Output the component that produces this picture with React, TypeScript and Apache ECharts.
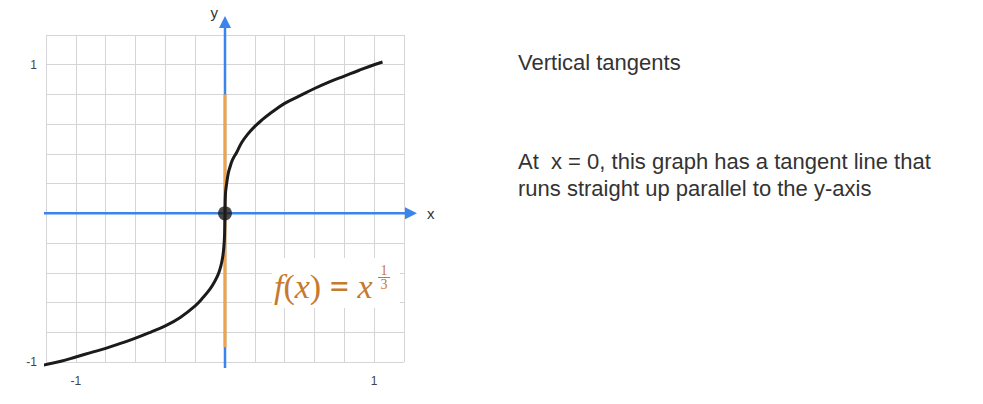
import React, { useEffect, useRef } from "react";
import * as echarts from "echarts";

// Curve f(x) = x^(1/3)
const curveX = [-1.263, -1.1, -1.0, -0.9, -0.8, -0.7, -0.6, -0.5, -0.4, -0.3, -0.2, -0.15, -0.101, -0.07, -0.045, -0.028, -0.016, -0.008, -0.003, 0, 0.003, 0.011, 0.022, 0.033, 0.05, 0.078, 0.111, 0.15, 0.2, 0.25, 0.3, 0.4, 0.5, 0.6, 0.7, 0.8, 0.9, 1.0, 1.056];
const curveY = [-1.031, -0.995, -0.966, -0.937, -0.908, -0.875, -0.84, -0.8, -0.757, -0.7, -0.622, -0.57, -0.51, -0.46, -0.409, -0.355, -0.297, -0.23, -0.15, 0, 0.13, 0.2, 0.27, 0.31, 0.36, 0.41, 0.475, 0.53, 0.585, 0.63, 0.67, 0.74, 0.79, 0.84, 0.885, 0.924, 0.963, 1.0, 1.018];

// Vertical tangent at x = 0
const tangentX = [0, 0];
const tangentY = [-0.9, 0.8];

// Drawn axes (with arrows)
const xAxisLineX = [-1.24, 1.247];
const yAxisLineY = [-1.04, 1.288];

const pointOfTangency = [0, 0];

const xRange = [-1.2, 1.2];
const yRange = [-1.0, 1.2];
const step = 0.2;
const labeledTicks = [-1, 1];

const title = "Vertical tangents";
const bodyLines = ["At  x = 0, this graph has a tangent line that", "runs straight up parallel to the y-axis"];

const BLUE = "#3b84ec";
const ORANGE = "#f2a347";
const FORMULA = "#c67a2d";

export default function App() {
  const ref = useRef<HTMLDivElement>(null);
  useEffect(() => {
    if (!ref.current) return;
    const chart = echarts.init(ref.current, null, { renderer: "svg" });
    const fmt = (v: number) =>
      labeledTicks.some((t) => Math.abs(v - t) < 1e-6) ? String(Math.round(v)) : "";
    const sans = "'Liberation Sans', Arial, Helvetica, sans-serif";
    const serif = "'Liberation Serif', 'DejaVu Serif', serif";
    chart.setOption({
      animation: false,
      grid: { left: 46, top: 35, width: 358, height: 327, containLabel: false },
      xAxis: {
        type: "value",
        min: xRange[0],
        max: xRange[1],
        interval: step,
        axisLine: { show: false },
        axisTick: { show: false },
        splitLine: { show: true, lineStyle: { color: "#d5d5d5", width: 1 } },
        axisLabel: { formatter: fmt, color: "#444", fontSize: 12, fontFamily: sans, margin: 13, showMinLabel: true, showMaxLabel: true },
      },
      yAxis: {
        type: "value",
        min: yRange[0],
        max: yRange[1],
        interval: step,
        axisLine: { show: false },
        axisTick: { show: false },
        splitLine: { show: true, lineStyle: { color: "#d5d5d5", width: 1 } },
        axisLabel: { formatter: fmt, color: "#444", fontSize: 12, fontFamily: sans, margin: 9, showMinLabel: true, showMaxLabel: true },
      },
      series: [
        {
          type: "line",
          clip: false,
          z: 2,
          lineStyle: { color: BLUE, width: 2.5 },
          itemStyle: { color: BLUE },
          data: [
            { value: [xAxisLineX[0], 0], symbol: "none" },
            {
              value: [xAxisLineX[1], 0],
              symbol: "triangle",
              symbolSize: [12, 12],
              symbolRotate: -90,
              label: { show: true, formatter: "x", position: "right", distance: 10, color: "#333", fontSize: 15, fontFamily: sans },
            },
          ],
        },
        {
          type: "line",
          clip: false,
          z: 2,
          lineStyle: { color: BLUE, width: 2.5 },
          itemStyle: { color: BLUE },
          data: [
            { value: [0, yAxisLineY[0]], symbol: "none" },
            {
              value: [0, yAxisLineY[1]],
              symbol: "triangle",
              symbolSize: [12, 12],
              label: { show: true, formatter: "y", position: "left", distance: 1, offset: [0, -9], color: "#333", fontSize: 15, fontFamily: sans },
            },
          ],
        },
        {
          type: "line",
          z: 3,
          symbol: "none",
          lineStyle: { color: ORANGE, width: 3 },
          data: tangentX.map((x, i) => [x, tangentY[i]]),
        },
        {
          type: "line",
          z: 4,
          clip: false,
          symbol: "none",
          smooth: 0.4,
          lineStyle: { color: "#1b1b1b", width: 3 },
          data: curveX.map((x, i) => [x, curveY[i]]),
        },
        {
          type: "scatter",
          z: 5,
          symbolSize: 14,
          itemStyle: { color: "#1b1b1b" },
          data: [pointOfTangency],
        },
      ],
      graphic: [
        { type: "rect", z: 10, shape: { x: 272, y: 258, width: 128, height: 50 }, style: { fill: "#fff" } },
        {
          type: "text",
          z: 11,
          x: 274,
          y: 286,
          style: {
            text: "{i|f}{n|(}{i|x}{n|)}{n| }{e|=}{n| }{i|x}",
            verticalAlign: "middle",
            fill: FORMULA,
            rich: {
              i: { fontFamily: serif, fontStyle: "italic", fontSize: 34, fill: FORMULA },
              n: { fontFamily: serif, fontSize: 34, fill: FORMULA },
              e: { fontFamily: serif, fontSize: 34, fontWeight: "bold", fill: FORMULA },
            },
          },
        },
        { type: "text", z: 11, x: 384, y: 270, style: { text: "1", fontFamily: serif, fontSize: 14, fill: FORMULA, align: "center", verticalAlign: "middle" } },
        { type: "line", z: 11, shape: { x1: 378, y1: 277.5, x2: 390, y2: 277.5 }, style: { stroke: FORMULA, lineWidth: 1 } },
        { type: "text", z: 11, x: 384, y: 284, style: { text: "3", fontFamily: serif, fontSize: 14, fill: FORMULA, align: "center", verticalAlign: "middle" } },
        { type: "text", x: 518, y: 62, style: { text: title, fontFamily: sans, fontSize: 22, fill: "#333", verticalAlign: "middle" } },
        { type: "text", x: 518, y: 161, style: { text: bodyLines[0], fontFamily: sans, fontSize: 22, fill: "#333", verticalAlign: "middle" } },
        { type: "text", x: 518, y: 188, style: { text: bodyLines[1], fontFamily: sans, fontSize: 22, fill: "#333", verticalAlign: "middle" } },
      ],
    });
    return () => chart.dispose();
  }, []);
  return <div ref={ref} style={{ position: "fixed", left: 0, top: 0, width: 983, height: 404, background: "#fff" }} />;
}
